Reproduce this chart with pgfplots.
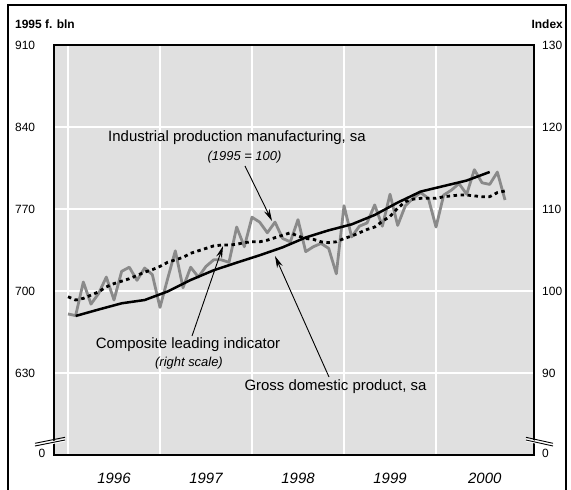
\documentclass[border=0pt]{standalone}
\usepackage{fontspec}
\setmainfont{Liberation Sans}
\usepackage{pgfplots}
\usepackage{pgfplotstable}
\pgfplotsset{compat=1.18}
\usetikzlibrary{arrows.meta}
\definecolor{bggray}{RGB}{224,224,224}
\definecolor{ipgray}{RGB}{138,138,138}

% month index m (0 = Jan 1996), value
\pgfplotstableread{
m v
0 97.2
1 97.0
2 101.1
3 98.4
4 99.7
5 101.7
6 98.9
7 102.4
8 102.9
9 101.3
10 102.8
11 102.0
12 98.0
13 101.5
14 104.9
15 100.4
16 102.9
17 101.7
18 103.0
19 103.8
20 103.8
21 103.5
22 107.8
23 105.4
24 109.0
25 108.4
26 107.1
27 108.4
28 106.4
29 106.0
30 108.7
31 104.8
32 105.4
33 105.8
34 105.2
35 102.1
36 110.4
37 106.6
38 107.9
39 108.3
40 110.5
41 107.9
42 111.8
43 108.0
44 110.4
45 111.3
46 112.0
47 111.3
48 107.8
49 111.7
50 112.3
51 113.1
52 111.8
53 114.8
54 113.2
55 113.0
56 114.5
57 111.1
}\industry

\pgfplotstableread{
m v
0 99.3
1 98.9
2 99.1
3 99.5
4 99.9
5 100.5
6 100.9
7 101.2
8 101.5
9 101.9
10 102.3
11 102.6
12 103.0
13 103.5
14 103.8
15 104.1
16 104.6
17 104.9
18 105.2
19 105.5
20 105.6
21 105.6
22 105.7
23 105.9
24 106.0
25 106.0
26 106.2
27 106.5
28 106.8
29 107.1
30 106.7
31 106.4
32 106.3
33 106.0
34 105.9
35 106.0
36 106.4
37 106.7
38 107.1
39 107.5
40 107.8
41 108.5
42 109.1
43 110.1
44 110.9
45 111.2
46 111.3
47 111.3
48 111.3
49 111.5
50 111.6
51 111.7
52 111.7
53 111.6
54 111.5
55 111.5
56 112.0
57 112.2
}\leading

% quarterly GDP, plotted at the middle month
\pgfplotstableread{
m v
1 678.7
4 684.2
7 689.5
10 692.3
13 699.6
16 709.4
19 717.7
22 724.2
25 730.5
28 737.3
31 745.7
34 751.8
37 756.9
40 764.9
43 775.5
46 784.9
49 789.6
52 794.3
55 801.6
}\gdp

\begin{document}
\begin{tikzpicture}[x=1bp,y=1bp]
\useasboundingbox (0,0) rectangle (571,-490);
\draw[line width=1.5bp] (8,-5) rectangle (566,-520);

% right scale: index
\begin{axis}[
  at={(54bp,-455bp)}, anchor=south west,
  width=480bp, height=410bp, scale only axis,
  xmin=1995.848, xmax=2001.065,
  ymin=80, ymax=130,
  axis background/.style={fill=bggray},
  axis line style={line width=1.2bp},
  major tick length=0pt,
  xtick={1996.5,1997.5,1998.5,1999.5,2000.53},
  xticklabels={1996,1997,1998,1999,2000},
  xticklabel style={font=\fontsize{15}{18}\selectfont\itshape, anchor=center, inner sep=0pt, yshift=-23bp},
  extra x ticks={1996,1997,1998,1999,2000},
  extra x tick labels={},
  extra x tick style={xmajorgrids=true},
  ytick={90,100,110,120,130},
  ymajorgrids,
  yticklabel pos=right,
  yticklabel style={font=\fontsize{12}{14}\selectfont, anchor=west, inner sep=0pt, xshift=8bp},
  grid style={white, line width=2.7bp},
  /pgf/number format/assume math mode=true,
]
\addplot[ipgray, line width=2.8bp, line join=round] table[x expr=1996+\thisrow{m}/12, y=v] {\industry};
\addplot[black, line width=2.8bp, dash pattern=on 3.5bp off 3.5bp] table[x expr=1996+\thisrow{m}/12, y=v] {\leading};
\end{axis}

% left scale: 1995 f. bln
\begin{axis}[
  at={(54bp,-455bp)}, anchor=south west,
  width=480bp, height=410bp, scale only axis,
  xmin=1995.848, xmax=2001.065,
  ymin=560, ymax=910,
  axis line style={line width=1.2bp},
  major tick length=0pt,
  xtick=\empty,
  ytick={630,700,770,840,910},
  yticklabel style={font=\fontsize{12}{14}\selectfont, anchor=west, inner sep=0pt, xshift=-39bp},
  /pgf/number format/assume math mode=true,
]
\addplot[black, line width=2.5bp, line join=round] table[x expr=1996+\thisrow{m}/12, y=v] {\gdp};
\end{axis}

% axis breaks
\fill[white] (36,-444.5) -- (65,-438.6) -- (65,-441.5) -- (36,-447.5) -- cycle;
\draw[line width=0.9bp] (35,-443.3) -- (65,-437.3) (35,-446) -- (65,-440);
\fill[white] (526,-438.6) -- (553,-444.5) -- (553,-447.5) -- (526,-441.5) -- cycle;
\draw[line width=0.9bp] (526,-437.3) -- (553,-443.3) (526,-440) -- (553,-446);
\node[font=\fontsize{12}{14}\selectfont] at (42,-453) {0};
\node[font=\fontsize{12}{14}\selectfont] at (545.5,-453) {0};

% headers
\node[font=\fontsize{12}{14}\selectfont\bfseries, anchor=west, inner sep=0pt] at (15,-24) {1995 f. bln};
\node[font=\fontsize{12}{14}\selectfont\bfseries, anchor=east, inner sep=0pt] at (563,-24) {Index};

% annotations
\node[font=\fontsize{15}{18}\selectfont] at (237,-138) {Industrial production manufacturing, sa};
\node[font=\fontsize{13}{16}\selectfont\itshape] at (244.5,-157) {(1995 = 100)};
\draw[line width=0.9bp, -{Stealth[length=12bp,width=6bp]}] (245,-166) -- (272,-221);
\node[font=\fontsize{15}{18}\selectfont] at (188,-345) {Composite leading indicator};
\node[font=\fontsize{13}{16}\selectfont\itshape] at (189,-363) {(right scale)};
\draw[line width=0.9bp, -{Stealth[length=12bp,width=6bp]}] (192,-336) -- (223,-246);
\node[font=\fontsize{15}{18}\selectfont] at (335.5,-387) {Gross domestic product, sa};
\draw[line width=0.9bp, -{Stealth[length=12bp,width=6bp]}] (329,-377) -- (275,-256);
\end{tikzpicture}
\end{document}
